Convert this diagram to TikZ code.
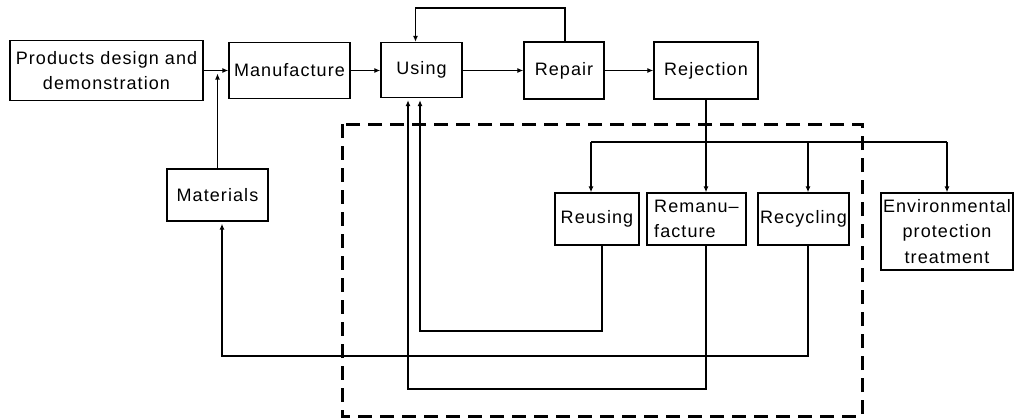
\documentclass[tikz,border=0pt]{standalone}
\usepackage{fontspec}
\setmainfont{Liberation Sans}[LetterSpace=6]
\usetikzlibrary{arrows.meta,calc}
\begin{document}
\begin{tikzpicture}[x=1pt,y=-1pt,
  box/.style={draw,line width=1.3pt,inner sep=0pt,align=center,font=\fontsize{18}{25.5}\selectfont},
  arr/.style={line width=1.2pt,-{Latex[length=6pt,width=5pt]}},
  ln/.style={line width=1.2pt},
  dbox/.style={line width=3pt,dash pattern=on 14pt off 8pt}]
\useasboundingbox (0,0) rectangle (1014,420);
\node[box,minimum width=193pt,minimum height=60pt] (prod) at (106.5,70.5) {Products design and\\demonstration};
\node[box,minimum width=121pt,minimum height=56pt] (manu) at (289.5,70.5) {Manufacture};
\node[box,minimum width=81pt,minimum height=55pt] (use) at (421.5,70) {Using};
\node[box,minimum width=80pt,minimum height=57pt] (rep) at (564,70.5) {Repair};
\node[box,minimum width=104pt,minimum height=57pt] (rej) at (706,70.5) {Rejection};
\node[box,minimum width=101pt,minimum height=52pt] (mat) at (217.5,195) {Materials};
\node[box,minimum width=84pt,minimum height=52pt] (reus) at (597,219) {Reusing};
\node[box,minimum width=99pt,minimum height=52pt,align=left] (reman) at (696.5,219) {Remanu–\\facture};
\node[box,minimum width=91pt,minimum height=52pt] (recy) at (803.5,219) {Recycling};
\node[box,minimum width=132pt,minimum height=77pt] (env) at (947,231.5) {Environmental\\protection\\treatment};
% main flow
\draw[arr] (prod.east) -- (manu.west);
\draw[arr] (manu.east) -- (manu.east -| use.west);
\draw[arr] (rep.west -| use.east) -- (rep.west);
\draw[arr] (rep.east) -- (rej.west);
\draw[arr,shorten >=3pt] (mat.north) -- (mat.north |- prod.east);
% repair loop
\coordinate (lp) at (565,8);
\draw[arr] (lp |- rep.north) -- (lp) -| ($(use.north)+(-6,0)$);
% rejection distribution
\coordinate (busL) at (591,142);
\coordinate (busR) at (947,142);
\coordinate (bus3) at (808,142);
\draw[ln] (busL) -- (busR);
\draw[arr] (rej.south) -- (rej.south |- reman.north);
\draw[arr] (busL) -- (busL |- reus.north);
\draw[arr] (bus3) -- (bus3 |- recy.north);
\draw[arr] (busR) -- (env.north);
% returns
\coordinate (r1) at (420,331);
\coordinate (r2) at (408,389);
\coordinate (r3) at (222,356);
\draw[arr,shorten >=2pt] ($(reus.south)+(5,0)$) |- (r1) -- (r1 |- use.south);
\draw[arr,shorten >=2pt] ($(reman.south)+(9.5,0)$) |- (r2) -- (r2 |- use.south);
\draw[arr,shorten >=2pt] ($(recy.south)+(4.5,0)$) |- (r3) -- (r3 |- mat.south);
% dashed boundary
\draw[dbox] (342,124) rectangle (862,416);
\end{tikzpicture}
\end{document}
